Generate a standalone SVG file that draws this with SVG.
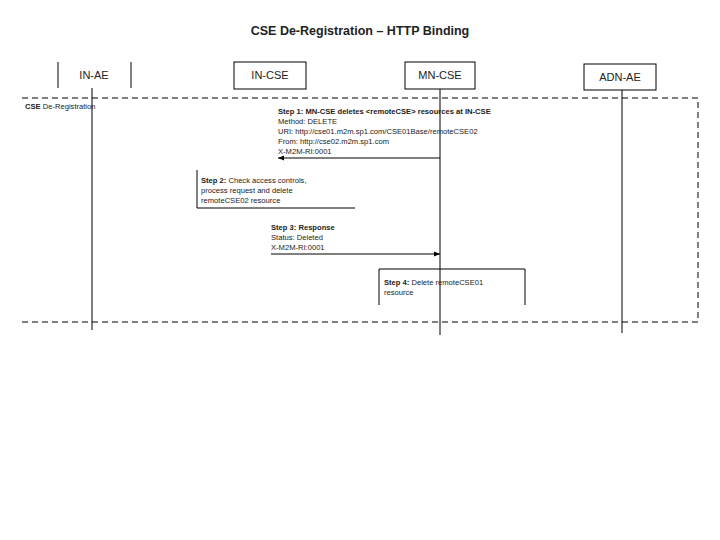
<svg xmlns="http://www.w3.org/2000/svg" width="720" height="540" viewBox="0 0 720 540">
<style>
text{font-family:"Liberation Sans",Arial,sans-serif;fill:#222}
.t{font-size:12.5px;font-weight:bold}
.h{font-size:11px}
.s{font-size:7.6px}
.b{font-weight:bold}
.ln{stroke:#000;stroke-width:1;fill:none}
.box{stroke:#000;stroke-width:1;fill:#fff}
.dash{stroke:#000;stroke-width:1;fill:none;stroke-dasharray:6,4}
</style>
<defs>
<marker id="ah" viewBox="0 0 10 10" refX="10" refY="5" markerWidth="8" markerHeight="6" orient="auto" markerUnits="userSpaceOnUse">
<path d="M0,1 L10,5 L0,9 z" fill="#000"/>
</marker>
</defs>
<rect width="720" height="540" fill="#fff"/>
<text class="t" x="360" y="35" text-anchor="middle">CSE De-Registration – HTTP Binding</text>
<g id="frame">
<path class="dash" d="M22,98 H698 V322 H22"/>
<text class="s" x="25" y="109"><tspan class="b">CSE</tspan> De-Registration</text>
</g>
<g id="in-ae">
<line class="ln" x1="58" y1="62" x2="58" y2="88"/>
<line class="ln" x1="131" y1="62" x2="131" y2="88"/>
<text class="h" x="94" y="79" text-anchor="middle">IN-AE</text>
<line class="ln" x1="92" y1="88" x2="92" y2="330"/>
</g>
<g id="in-cse">
<rect class="box" x="234" y="62" width="72" height="27"/>
<text class="h" x="270" y="79" text-anchor="middle">IN-CSE</text>
</g>
<g id="mn-cse">
<rect class="box" x="405" y="62" width="70" height="27"/>
<text class="h" x="440" y="79" text-anchor="middle">MN-CSE</text>
<line class="ln" x1="440" y1="89" x2="440" y2="335"/>
</g>
<g id="adn-ae">
<rect class="box" x="584" y="64" width="72" height="26"/>
<text class="h" x="620" y="81" text-anchor="middle">ADN-AE</text>
<line class="ln" x1="622" y1="90" x2="622" y2="333"/>
</g>
<g id="connectors">
<line class="ln" x1="440" y1="158" x2="278" y2="158" marker-end="url(#ah)"/>
<line class="ln" x1="271" y1="254" x2="440" y2="254" marker-end="url(#ah)"/>
</g>
<g id="step1">
<text class="s" x="278" y="114"><tspan class="b">Step 1: MN-CSE deletes &lt;remoteCSE&gt; resources at IN-CSE</tspan></text>
<text class="s" x="278" y="124">Method: DELETE</text>
<text class="s" x="278" y="134">URI: http://cse01.m2m.sp1.com/CSE01Base/remoteCSE02</text>
<text class="s" x="278" y="144">From: http://cse02.m2m.sp1.com</text>
<text class="s" x="278" y="154">X-M2M-RI:0001</text>
</g>
<g id="step2">
<path class="ln" d="M197,170 V208 H355"/>
<text class="s" x="201" y="183"><tspan class="b">Step 2:</tspan> Check access controls,</text>
<text class="s" x="201" y="193">process request and delete</text>
<text class="s" x="201" y="203">remoteCSE02 resource</text>
</g>
<g id="step3">
<text class="s" x="271" y="230"><tspan class="b">Step 3: Response</tspan></text>
<text class="s" x="271" y="240">Status: Deleted</text>
<text class="s" x="271" y="250">X-M2M-RI:0001</text>
</g>
<g id="step4">
<path class="ln" d="M379,305 V269 H525 V305"/>
<text class="s" x="384" y="285"><tspan class="b">Step 4:</tspan> Delete remoteCSE01</text>
<text class="s" x="384" y="295">resource</text>
</g>
</svg>
